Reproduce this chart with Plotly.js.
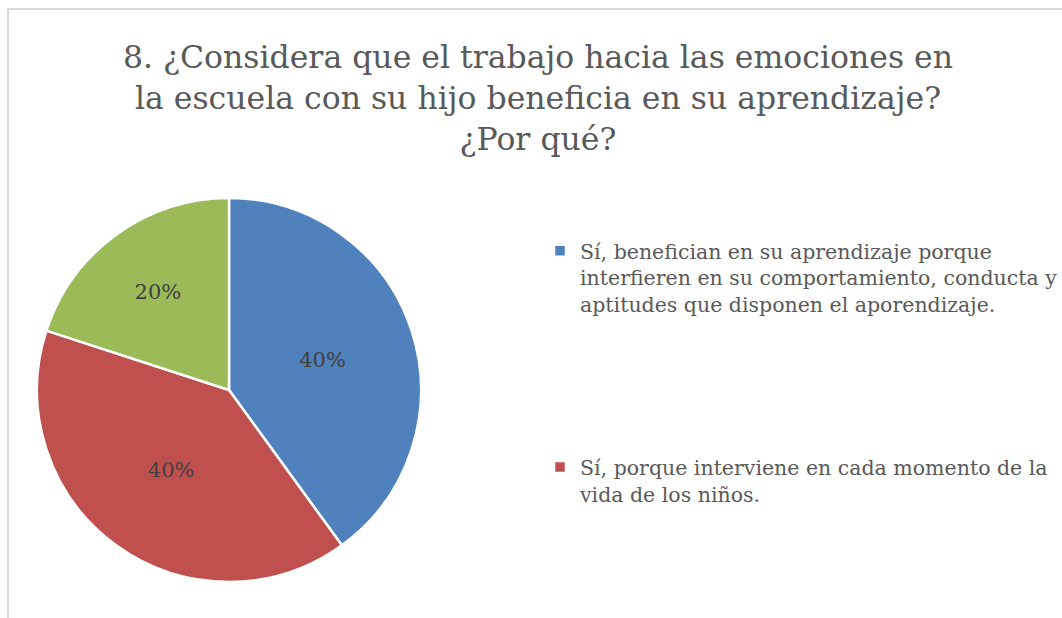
<!DOCTYPE html>
<html>
<head>
<meta charset="utf-8">
<script src="https://cdn.plot.ly/plotly-3.0.1.min.js"></script>
<style>html,body{margin:0;padding:0;background:#fff;}#chart{width:1062px;height:618px;}</style>
</head>
<body>
<div id="chart"></div>
<script>
var legendLines = [
  ["Sí, benefician en su aprendizaje porque", "interfieren en su comportamiento, conducta y", "aptitudes que disponen el aporendizaje."],
  ["Sí, porque interviene en cada momento de la", "vida de los niños."],
  ["No."]
];
var values = [40, 40, 20];
var colors = ["#4F81BD", "#C0504D", "#9BBB59"];
var titleText = "8. ¿Considera que el trabajo hacia las emociones en<br>la escuela con su hijo beneficia en su aprendizaje?<br>¿Por qué?";

var W = 1062, H = 618;
var LINES_PER_ITEM = 8;
var labels = legendLines.map(function (l) {
  var arr = l.slice();
  while (arr.length < LINES_PER_ITEM) arr.push("\u00a0");
  return arr.join("<br>");
});

var trace = {
  type: "pie",
  labels: labels,
  values: values,
  sort: false,
  direction: "clockwise",
  rotation: 0,
  marker: {colors: colors, line: {color: "#ffffff", width: 2.5}},
  textinfo: "percent",
  texttemplate: "%{percent:.0%}",
  textposition: "inside",
  insidetextorientation: "horizontal",
  textfont: {family: "DejaVu Serif", size: 21, color: "#404040"},
  hoverinfo: "none",
  domain: {x: [37 / W, 421 / W], y: [1 - 582 / H, 1 - 198 / H]}
};

var layout = {
  width: W, height: H,
  margin: {l: 0, r: 0, t: 0, b: 0, autoexpand: false},
  paper_bgcolor: "#ffffff",
  title: {
    text: titleText,
    x: 538 / W, xanchor: "center",
    y: 1 - 68 / H, yanchor: "top",
    font: {family: "DejaVu Serif", size: 31.5, color: "#595959"}
  },
  showlegend: true,
  legend: {
    x: 540 / W, xanchor: "left",
    y: 1 - 231 / H, yanchor: "top",
    valign: "top",
    font: {family: "DejaVu Serif", size: 20.5, color: "#595959"},
    tracegroupgap: 0,
    itemwidth: 30,
    maxheight: 3000,
    bgcolor: "rgba(0,0,0,0)"
  },
  shapes: [{
    type: "rect", xref: "paper", yref: "paper",
    x0: 8 / W, x1: 1.02, y0: -0.02, y1: 1 - 9 / H,
    line: {color: "#d9d9d9", width: 2}, fillcolor: "rgba(0,0,0,0)"
  }]
};

Plotly.newPlot("chart", [trace], layout, {displayModeBar: false, staticPlot: true});
</script>
</body>
</html>
